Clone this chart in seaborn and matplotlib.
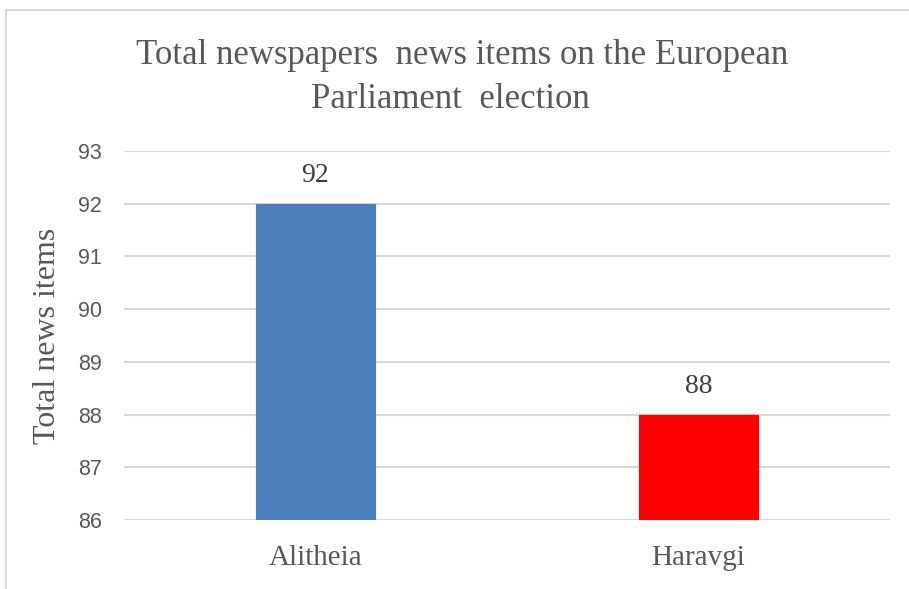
import matplotlib
matplotlib.use('Agg')
import matplotlib.pyplot as plt
import seaborn as sns
import pandas as pd
from matplotlib.patches import Rectangle

papers = ['Alitheia', 'Haravgi']
news_items = [92, 88]
bar_colors = ['#4A7EBB', '#FF0000']
y_ticks = [86, 87, 88, 89, 90, 91, 92, 93]

df = pd.DataFrame({'paper': papers, 'items': news_items})

sns.set_style('white')
serif = ['Liberation Serif', 'DejaVu Serif']
txt = '#595959'

fig = plt.figure(figsize=(9.09, 5.89), dpi=100)
ax = fig.add_axes([124 / 909, 1 - 520 / 589, 766 / 909, 369 / 589])

sns.barplot(data=df, x='paper', y='items', hue='paper', palette=bar_colors,
            saturation=1, width=0.313, ax=ax, legend=False, zorder=3)
for p in ax.patches:
    p.set_edgecolor(p.get_facecolor())
    p.set_linewidth(0.8)

ax.set_ylim(86, 93)
ax.set_xlim(-0.5, 1.5)
ax.set_yticks(y_ticks)
ax.yaxis.grid(True, color='#D9D9D9', linewidth=1.5, zorder=0)
ax.set_axisbelow(True)
for s in ax.spines.values():
    s.set_visible(False)
ax.tick_params(length=0)
ax.tick_params(axis='y', labelsize=15.5, labelcolor=txt, pad=16)
ax.tick_params(axis='x', labelsize=21, labelcolor=txt, pad=18)
for lab in ax.get_yticklabels():
    lab.set_family(['Liberation Sans', 'DejaVu Sans'])
for lab in ax.get_xticklabels():
    lab.set_family(serif)

ax.set_xlabel('')
ax.set_ylabel('Total news items', fontsize=23, color=txt, family=serif, labelpad=11)

for i, v in enumerate(news_items):
    ax.annotate(str(v), (i, v), xytext=(0, 11), textcoords='offset points',
                ha='center', va='bottom', fontsize=20, color='#404040', family=serif)

fig.text(462 / 909, 1 - 55 / 589, 'Total newspapers  news items on the European',
         ha='center', va='center', fontsize=25, color=txt, family=serif)
fig.text(450 / 909, 1 - 100 / 589, 'Parliament  election',
         ha='center', va='center', fontsize=25, color=txt, family=serif)

fig.patches.append(Rectangle((6 / 909, -0.1), 1.2, 1 - 10 / 589 + 0.1,
                             transform=fig.transFigure, fill=False,
                             edgecolor='#D9D9D9', linewidth=1.5))

fig.savefig('out.png', dpi=100)
